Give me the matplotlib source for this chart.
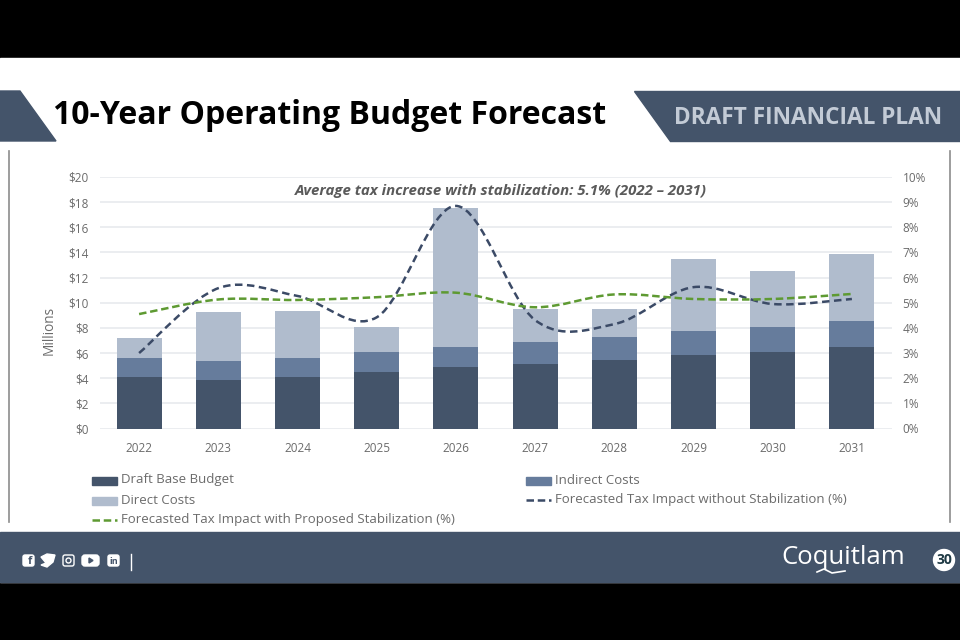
import matplotlib
matplotlib.use("Agg")
import matplotlib.pyplot as plt
from matplotlib.patches import Polygon, Rectangle, Circle, PathPatch, FancyBboxPatch
from matplotlib.path import Path
from matplotlib.lines import Line2D

plt.rcParams['font.family'] = ['Open Sans', 'DejaVu Sans']

years = ['2022', '2023', '2024', '2025', '2026', '2027', '2028', '2029', '2030', '2031']
base_budget = [4.07, 3.85, 4.07, 4.49, 4.87, 5.1, 5.45, 5.82, 6.11, 6.5]
indirect_costs = [1.56, 1.5, 1.56, 1.62, 1.61, 1.75, 1.83, 1.91, 1.99, 2.07]
direct_costs = [1.54, 3.9, 3.71, 1.99, 11.02, 2.63, 2.2, 5.77, 4.42, 5.28]
tax_without = [3.0, 5.58, 5.27, 4.42, 8.85, 4.31, 4.15, 5.62, 4.95, 5.15]
tax_with = [4.55, 5.13, 5.11, 5.22, 5.4, 4.82, 5.33, 5.15, 5.15, 5.35]

left_ticks = ['$0', '$2', '$4', '$6', '$8', '$10', '$12', '$14', '$16', '$18', '$20']
right_ticks = ['0%', '1%', '2%', '3%', '4%', '5%', '6%', '7%', '8%', '9%', '10%']

NAVY = '#44546a'
MID = '#667c9c'
LIGHT = '#b0bccd'
GREEN = '#5e9a32'
DARK_LINE = '#3b4a66'
GREY = '#6b6b6b'


def smooth_path(xs, ys):
    # same kind of curve Excel draws for a "smoothed line"
    verts = [(xs[0], ys[0])]
    codes = [Path.MOVETO]
    n = len(xs)
    for i in range(n - 1):
        x0, y0 = (xs[i - 1], ys[i - 1]) if i > 0 else (xs[i], ys[i])
        x3, y3 = (xs[i + 2], ys[i + 2]) if i + 2 < n else (xs[i + 1], ys[i + 1])
        c1 = (xs[i] + (xs[i + 1] - x0) / 6, ys[i] + (ys[i + 1] - y0) / 6)
        c2 = (xs[i + 1] - (x3 - xs[i]) / 6, ys[i + 1] - (y3 - ys[i]) / 6)
        verts += [c1, c2, (xs[i + 1], ys[i + 1])]
        codes += [Path.CURVE4] * 3
    return Path(verts, codes)


fig = plt.figure(figsize=(9.6, 6.4), dpi=100, facecolor='black')

# slide background, in pixels
bg = fig.add_axes([0, 0, 1, 1])
bg.set_xlim(0, 960)
bg.set_ylim(640, 0)
bg.axis('off')
bg.add_patch(Rectangle((0, 58), 960, 524, color='white'))
bg.add_patch(Polygon([(0, 91), (20, 91), (56, 141), (0, 141)], color=NAVY))
bg.add_patch(Polygon([(634, 91), (960, 91), (960, 141), (670, 141)], color=NAVY))
bg.add_patch(Rectangle((0, 532), 960, 50, color=NAVY))
bg.plot([9, 9], [151, 522], color='#8c8c8c', lw=1.2)
bg.plot([950, 950], [151, 522], color='#8c8c8c', lw=1.2)
bg.text(53, 115, '10-Year Operating Budget Forecast', fontsize=23, fontweight='bold',
        color='black', va='center', ha='left')
bg.text(942, 118, 'DRAFT FINANCIAL PLAN', fontsize=16.3, fontweight='bold', color='#c3cbd6',
        va='center', ha='right')

# footer icons
for x, w in [(23, 11), (63, 11), (108, 11)]:
    bg.add_patch(FancyBboxPatch((x, 555), w, 11, boxstyle='round,pad=0,rounding_size=2',
                                fc='white' if x != 63 else NAVY, ec='white', lw=1))
bg.text(29.5, 561, 'f', fontsize=8, fontweight='bold', color=NAVY, ha='center', va='center')
bg.text(113.5, 561, 'in', fontsize=6.5, fontweight='bold', color=NAVY, ha='center', va='center')
bg.add_patch(Circle((68.5, 560.5), 2.5, fc='none', ec='white', lw=1))
bg.add_patch(Polygon([(41, 557), (47, 554), (55, 555), (53, 562), (47, 567), (41, 565), (46, 563)],
                     color='white'))
bg.add_patch(FancyBboxPatch((82, 555), 17, 11, boxstyle='round,pad=0,rounding_size=3', color='white'))
bg.add_patch(Polygon([(89, 558), (93, 560.5), (89, 563)], color=NAVY))
bg.plot([131, 131], [554, 570], color='white', lw=1)
bg.text(843, 557, 'Coquitlam', fontsize=18.5, color='white', ha='center', va='center')
bg.plot([817, 824, 832, 845], [572, 569, 573, 571], color='white', lw=1.2)
bg.add_patch(Circle((944, 560), 10.5, color='white'))
bg.text(944, 560, '30', fontsize=10, fontweight='bold', color='#1f3a45', ha='center', va='center')

# chart
ax = fig.add_axes([99.5 / 960, 1 - 428.5 / 640, 792 / 960, 251.5 / 640])
ax.patch.set_alpha(0)
x = list(range(len(years)))
ax.set_xlim(-0.5, 9.5)
ax.set_ylim(0, 20)
bottom2 = [a + b for a, b in zip(base_budget, indirect_costs)]
ax.bar(x, base_budget, width=0.57, color=NAVY, zorder=2)
ax.bar(x, indirect_costs, width=0.57, bottom=base_budget, color=MID, zorder=2)
ax.bar(x, direct_costs, width=0.57, bottom=bottom2, color=LIGHT, zorder=2)
ax.set_yticks(range(0, 21, 2))
ax.set_yticklabels(left_ticks)
ax.set_xticks(x)
ax.set_xticklabels(years)
ax.tick_params(axis='both', length=0, labelsize=8.5, labelcolor=GREY)
ax.tick_params(axis='x', pad=9.5)
ax.tick_params(axis='y', pad=8)
ax.grid(axis='y', color='#e8eaed', lw=1.2, zorder=0)
ax.set_axisbelow(True)
for s in ax.spines.values():
    s.set_visible(False)
ax.text(49, 330, 'Millions', transform=bg.transData, fontsize=9.8, color=GREY, rotation=90,
        ha='center', va='center')

ax2 = ax.twinx()
ax2.set_ylim(0, 10)
ax2.set_yticks(range(0, 11))
ax2.set_yticklabels(right_ticks)
ax2.tick_params(axis='y', length=0, labelsize=8.5, labelcolor=GREY, pad=8)
for s in ax2.spines.values():
    s.set_visible(False)
ax2.add_patch(PathPatch(smooth_path(x, tax_without), fc='none', ec=DARK_LINE, lw=1.8,
                        ls=(0, (3, 1.8)), zorder=4))
ax2.add_patch(PathPatch(smooth_path(x, tax_with), fc='none', ec=GREEN, lw=1.8,
                        ls=(0, (3, 1.5)), zorder=4))

ax.text(0.507, 0.945, 'Average tax increase with stabilization: 5.1% (2022 \u2013 2031)',
        transform=ax.transAxes, fontsize=10.8, fontweight='bold', style='italic', color='#5a5a5a',
        ha='center', va='center', zorder=5)

# legend, laid out by hand to keep Excel's two columns
leg = [
    (92, 480, 'Draft Base Budget', 'bar', NAVY),
    (92, 500, 'Direct Costs', 'bar', LIGHT),
    (92, 520, 'Forecasted Tax Impact with Proposed Stabilization (%)', 'line', GREEN),
    (526, 480, 'Indirect Costs', 'bar', MID),
    (526, 500, 'Forecasted Tax Impact without Stabilization (%)', 'line', DARK_LINE),
]
for lx, ly, label, kind, col in leg:
    if kind == 'bar':
        bg.add_patch(Rectangle((lx, ly - 3), 25, 8, color=col))
    else:
        bg.add_line(Line2D([lx, lx + 25], [ly, ly], color=col, lw=1.8, ls=(0, (3, 1.5))))
    bg.text(lx + 29, ly, label, fontsize=9.5, color=GREY, va='center', ha='left')

fig.savefig('out.png', dpi=100, facecolor='black')
